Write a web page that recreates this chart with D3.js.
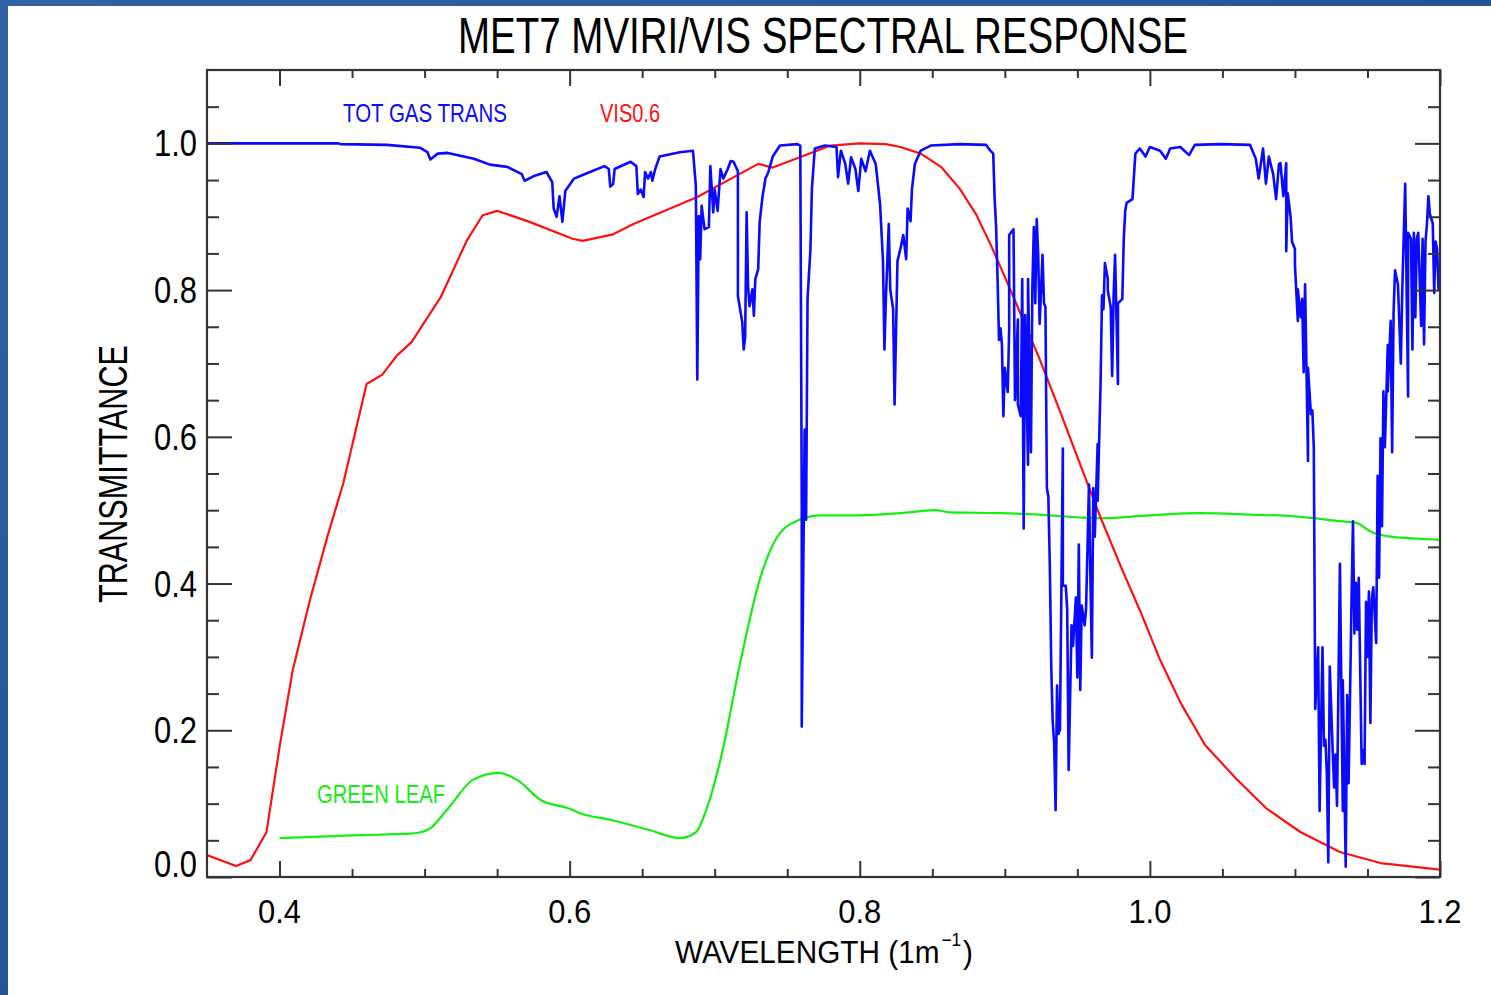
<!DOCTYPE html>
<html>
<head>
<meta charset="utf-8">
<script src="https://cdn.jsdelivr.net/npm/d3@7"></script>
<style>
  body { margin: 0; background: #27579a; }
  svg { display: block; }
</style>
</head>
<body>
<svg id="chart"></svg>
<script>
// wavelength (um) / value pairs
const visResponse = [[0.350,0.030],[0.370,0.015],[0.380,0.023],[0.391,0.061],[0.400,0.177],[0.409,0.281],[0.421,0.378],[0.433,0.464],[0.444,0.537],[0.460,0.672],[0.471,0.685],[0.481,0.711],[0.491,0.729],[0.511,0.790],[0.529,0.867],[0.540,0.902],[0.550,0.908],[0.571,0.894],[0.602,0.870],[0.609,0.867],[0.630,0.876],[0.644,0.890],[0.688,0.927],[0.730,0.972],[0.740,0.967],[0.780,0.997],[0.800,1.000],[0.818,0.999],[0.828,0.995],[0.842,0.986],[0.856,0.968],[0.869,0.938],[0.880,0.904],[0.890,0.863],[0.900,0.818],[0.911,0.767],[0.924,0.706],[0.938,0.635],[0.952,0.562],[0.966,0.490],[0.980,0.423],[0.993,0.364],[1.007,0.296],[1.021,0.238],[1.038,0.180],[1.059,0.135],[1.080,0.094],[1.104,0.061],[1.131,0.034],[1.159,0.019],[1.200,0.010]];

const greenLeaf = [[0.400,0.053],[0.455,0.057],[0.490,0.059],[0.502,0.064],[0.516,0.093],[0.533,0.132],[0.551,0.142],[0.564,0.132],[0.580,0.105],[0.600,0.093],[0.607,0.087],[0.628,0.078],[0.655,0.064],[0.676,0.053],[0.687,0.061],[0.693,0.085],[0.704,0.160],[0.718,0.296],[0.731,0.405],[0.742,0.460],[0.752,0.481],[0.773,0.493],[0.800,0.493],[0.828,0.496],[0.852,0.500],[0.862,0.497],[0.897,0.496],[0.924,0.494],[0.952,0.490],[0.966,0.489],[1.000,0.493],[1.035,0.496],[1.069,0.494],[1.104,0.491],[1.131,0.485],[1.142,0.483],[1.152,0.471],[1.166,0.464],[1.200,0.460]];

const gasTrans = [[0.350,1.000],[0.440,1.000],[0.442,0.999],[0.474,0.998],[0.497,0.994],[0.502,0.988],[0.504,0.978],[0.509,0.986],[0.516,0.987],[0.534,0.979],[0.545,0.971],[0.557,0.968],[0.567,0.958],[0.569,0.949],[0.576,0.956],[0.584,0.961],[0.588,0.947],[0.589,0.911],[0.591,0.900],[0.593,0.928],[0.595,0.893],[0.597,0.935],[0.603,0.952],[0.614,0.961],[0.624,0.969],[0.627,0.965],[0.628,0.941],[0.630,0.945],[0.631,0.965],[0.642,0.975],[0.646,0.969],[0.647,0.931],[0.649,0.937],[0.651,0.927],[0.652,0.961],[0.654,0.952],[0.656,0.961],[0.657,0.949],[0.659,0.965],[0.662,0.982],[0.676,0.988],[0.685,0.990],[0.687,0.942],[0.688,0.678],[0.689,0.901],[0.690,0.842],[0.691,0.915],[0.693,0.883],[0.696,0.886],[0.697,0.969],[0.699,0.906],[0.700,0.937],[0.702,0.908],[0.704,0.965],[0.706,0.952],[0.709,0.965],[0.711,0.976],[0.713,0.975],[0.716,0.962],[0.716,0.792],[0.719,0.756],[0.720,0.719],[0.721,0.737],[0.722,0.906],[0.723,0.805],[0.724,0.778],[0.726,0.801],[0.727,0.765],[0.728,0.815],[0.730,0.829],[0.731,0.893],[0.733,0.928],[0.735,0.952],[0.737,0.961],[0.740,0.982],[0.745,0.997],[0.757,0.999],[0.759,0.997],[0.760,0.515],[0.760,0.205],[0.762,0.610],[0.763,0.487],[0.764,0.788],[0.766,0.856],[0.767,0.938],[0.769,0.993],[0.776,0.997],[0.784,0.995],[0.785,0.954],[0.787,0.990],[0.790,0.972],[0.792,0.945],[0.794,0.981],[0.797,0.965],[0.799,0.935],[0.801,0.979],[0.804,0.962],[0.807,0.990],[0.811,0.972],[0.814,0.917],[0.816,0.840],[0.817,0.719],[0.818,0.788],[0.820,0.890],[0.821,0.801],[0.823,0.774],[0.824,0.644],[0.826,0.840],[0.828,0.856],[0.830,0.875],[0.832,0.842],[0.833,0.911],[0.835,0.894],[0.836,0.938],[0.838,0.972],[0.842,0.990],[0.849,0.997],[0.869,0.999],[0.887,0.998],[0.890,0.990],[0.892,0.986],[0.893,0.924],[0.894,0.886],[0.895,0.815],[0.896,0.732],[0.897,0.748],[0.898,0.726],[0.899,0.628],[0.900,0.694],[0.902,0.661],[0.903,0.747],[0.903,0.875],[0.906,0.883],[0.907,0.650],[0.909,0.760],[0.909,0.644],[0.911,0.628],[0.912,0.815],[0.913,0.475],[0.914,0.766],[0.916,0.562],[0.916,0.815],[0.918,0.579],[0.919,0.804],[0.920,0.886],[0.921,0.782],[0.922,0.897],[0.923,0.848],[0.924,0.754],[0.926,0.848],[0.927,0.782],[0.928,0.777],[0.929,0.530],[0.930,0.519],[0.931,0.426],[0.932,0.288],[0.933,0.212],[0.934,0.184],[0.935,0.091],[0.936,0.261],[0.937,0.195],[0.938,0.201],[0.940,0.584],[0.940,0.397],[0.942,0.397],[0.943,0.365],[0.944,0.146],[0.946,0.343],[0.947,0.315],[0.949,0.381],[0.950,0.272],[0.951,0.453],[0.952,0.255],[0.953,0.370],[0.955,0.343],[0.956,0.365],[0.958,0.535],[0.959,0.408],[0.960,0.299],[0.961,0.530],[0.962,0.464],[0.964,0.590],[0.964,0.513],[0.966,0.672],[0.967,0.793],[0.968,0.774],[0.969,0.837],[0.971,0.815],[0.971,0.799],[0.973,0.777],[0.974,0.683],[0.975,0.793],[0.976,0.848],[0.978,0.672],[0.978,0.782],[0.981,0.788],[0.982,0.870],[0.983,0.908],[0.984,0.919],[0.988,0.924],[0.990,0.986],[0.993,0.993],[0.997,0.982],[1.000,0.995],[1.007,0.990],[1.011,0.979],[1.014,0.993],[1.021,0.995],[1.027,0.984],[1.031,0.998],[1.049,0.999],[1.069,0.998],[1.073,0.979],[1.075,0.952],[1.078,0.993],[1.080,0.945],[1.082,0.982],[1.085,0.958],[1.087,0.924],[1.089,0.972],[1.090,0.973],[1.092,0.928],[1.094,0.973],[1.094,0.853],[1.095,0.932],[1.097,0.900],[1.098,0.866],[1.100,0.856],[1.100,0.834],[1.102,0.758],[1.102,0.801],[1.104,0.763],[1.105,0.788],[1.106,0.688],[1.107,0.808],[1.109,0.567],[1.109,0.694],[1.111,0.631],[1.112,0.636],[1.113,0.586],[1.114,0.229],[1.116,0.313],[1.117,0.090],[1.118,0.205],[1.119,0.313],[1.120,0.179],[1.121,0.187],[1.122,0.141],[1.123,0.020],[1.124,0.287],[1.126,0.173],[1.127,0.122],[1.128,0.167],[1.129,0.097],[1.130,0.262],[1.131,0.427],[1.133,0.090],[1.133,0.268],[1.135,0.014],[1.136,0.248],[1.137,0.128],[1.139,0.375],[1.140,0.485],[1.141,0.332],[1.142,0.401],[1.143,0.337],[1.144,0.408],[1.146,0.154],[1.147,0.173],[1.148,0.154],[1.149,0.375],[1.150,0.300],[1.151,0.389],[1.152,0.210],[1.153,0.378],[1.154,0.395],[1.156,0.319],[1.157,0.547],[1.158,0.408],[1.159,0.598],[1.160,0.478],[1.161,0.662],[1.162,0.586],[1.164,0.725],[1.164,0.662],[1.166,0.758],[1.167,0.579],[1.168,0.770],[1.169,0.827],[1.171,0.808],[1.173,0.700],[1.174,0.801],[1.176,0.945],[1.178,0.655],[1.178,0.878],[1.180,0.870],[1.181,0.719],[1.182,0.878],[1.183,0.763],[1.184,0.870],[1.185,0.878],[1.187,0.751],[1.188,0.870],[1.189,0.726],[1.190,0.866],[1.191,0.890],[1.192,0.928],[1.193,0.904],[1.195,0.891],[1.196,0.796],[1.197,0.866],[1.198,0.856],[1.199,0.801],[1.200,0.834]];

const xMajor = [0.4, 0.6, 0.8, 1.0, 1.2];
const xMinor = [0.45, 0.5, 0.55, 0.65, 0.7, 0.75, 0.85, 0.9, 0.95, 1.05, 1.1, 1.15];
const yMajor = [0.0, 0.2, 0.4, 0.6, 0.8, 1.0];
const yMinor = [0.05, 0.1, 0.15, 0.25, 0.3, 0.35, 0.45, 0.5, 0.55, 0.65, 0.7, 0.75, 0.85, 0.9, 0.95, 1.05];

const width = 1491;
const height = 995;
const font = "'Liberation Sans', Arial, Helvetica, sans-serif";

const svg = d3.select("#chart")
    .attr("width", width)
    .attr("height", height);

// blue slide background + white panel
const grad = svg.append("defs").append("linearGradient")
    .attr("id", "bg")
    .attr("x1", 0).attr("y1", 0).attr("x2", 1).attr("y2", 1);
grad.append("stop").attr("offset", 0).attr("stop-color", "#2f63a6");
grad.append("stop").attr("offset", 1).attr("stop-color", "#1c4787");
svg.append("rect").attr("width", width).attr("height", height).attr("fill", "url(#bg)");
svg.append("rect").attr("x", 8).attr("y", 6).attr("width", width - 8).attr("height", height - 6).attr("fill", "#fff");

const mLeft = 207, mRight = 1440, mTop = 70, mBottom = 877;

const x = d3.scaleLinear().domain([0.35, 1.2]).range([mLeft, mRight]);
const y = d3.scaleLinear().domain([0, 1.1]).range([mBottom, mTop]);

svg.append("clipPath").attr("id", "plot")
    .append("rect").attr("x", mLeft).attr("y", mTop).attr("width", mRight - mLeft).attr("height", mBottom - mTop);

const line = d3.line().x(d => x(d[0])).y(d => y(d[1]));

const plot = svg.append("g").attr("clip-path", "url(#plot)").attr("fill", "none");

plot.append("path")
    .datum(greenLeaf)
    .attr("stroke", "#14ee14")
    .attr("stroke-width", 2.2)
    .attr("d", line.curve(d3.curveMonotoneX));

plot.append("path")
    .datum(visResponse)
    .attr("stroke", "#ff1010")
    .attr("stroke-width", 2.2)
    .attr("stroke-linejoin", "round")
    .attr("d", line.curve(d3.curveLinear));

plot.append("path")
    .datum(gasTrans)
    .attr("stroke", "#0a0aff")
    .attr("stroke-width", 2.6)
    .attr("stroke-linejoin", "round")
    .attr("d", line.curve(d3.curveLinear));

// axes: ticks pointing inward on all four sides
function ticks(axis, vals, size, tr) {
    const g = svg.append("g")
        .attr("transform", tr)
        .call(axis.tickValues(vals).tickSize(size).tickFormat(""));
    g.select(".domain").remove();
    g.selectAll("line").attr("stroke", "#333").attr("stroke-width", 2);
    return g;
}
ticks(d3.axisBottom(x), xMajor, -16, `translate(0,${mBottom})`);
ticks(d3.axisBottom(x), xMinor, -8, `translate(0,${mBottom})`);
ticks(d3.axisTop(x), xMajor, -16, `translate(0,${mTop})`);
ticks(d3.axisTop(x), xMinor, -8, `translate(0,${mTop})`);
ticks(d3.axisLeft(y), yMajor, -25, `translate(${mLeft},0)`);
ticks(d3.axisLeft(y), yMinor, -12, `translate(${mLeft},0)`);
ticks(d3.axisRight(y), yMajor, -25, `translate(${mRight},0)`);
ticks(d3.axisRight(y), yMinor, -12, `translate(${mRight},0)`);

svg.append("rect")
    .attr("x", mLeft).attr("y", mTop)
    .attr("width", mRight - mLeft).attr("height", mBottom - mTop)
    .attr("fill", "none").attr("stroke", "#333").attr("stroke-width", 2.2);

// tick labels
svg.append("g").selectAll("text")
    .data(xMajor)
    .join("text")
    .attr("x", d => x(d))
    .attr("y", mBottom + 46)
    .attr("text-anchor", "middle")
    .attr("font-family", font)
    .attr("font-size", 34)
    .attr("textLength", 43)
    .attr("lengthAdjust", "spacingAndGlyphs")
    .text(d => d.toFixed(1));

svg.append("g").selectAll("text")
    .data(yMajor)
    .join("text")
    .attr("x", mLeft - 10)
    .attr("y", d => d === 0 ? y(d) : y(d) + 13)
    .attr("text-anchor", "end")
    .attr("font-family", font)
    .attr("font-size", 36)
    .attr("textLength", 43)
    .attr("lengthAdjust", "spacingAndGlyphs")
    .text(d => d.toFixed(1));

// titles
function label(txt, px, py, size, len, color, anchor) {
    return svg.append("text")
        .attr("x", px).attr("y", py)
        .attr("font-family", font)
        .attr("font-size", size)
        .attr("fill", color || "#000")
        .attr("text-anchor", anchor || "start")
        .attr("textLength", len)
        .attr("lengthAdjust", "spacingAndGlyphs")
        .text(txt);
}

label("MET7 MVIRI/VIS SPECTRAL RESPONSE", 458, 53, 50, 730);

// x axis title with superscript, one text element squeezed horizontally
const xt = svg.append("text")
    .attr("transform", "translate(675,963) scale(0.96,1)")
    .attr("font-family", font)
    .attr("font-size", 31);
xt.append("tspan").text("WAVELENGTH (1m");
xt.append("tspan").attr("dx", 2).attr("dy", -17).attr("font-size", 18).text("\u22121");
xt.append("tspan").attr("dx", 2).attr("dy", 17).text(")");

svg.append("text")
    .attr("transform", "translate(127,474) rotate(-90)")
    .attr("text-anchor", "middle")
    .attr("font-family", font)
    .attr("font-size", 40)
    .attr("textLength", 258)
    .attr("lengthAdjust", "spacingAndGlyphs")
    .text("TRANSMITTANCE");

label("TOT GAS TRANS", 343, 122, 26, 164, "#0a0aff");
label("VIS0.6", 600, 122, 26, 60, "#ff1010");
label("GREEN LEAF", 317, 803, 26, 128, "#14ee14");
</script>
</body>
</html>
